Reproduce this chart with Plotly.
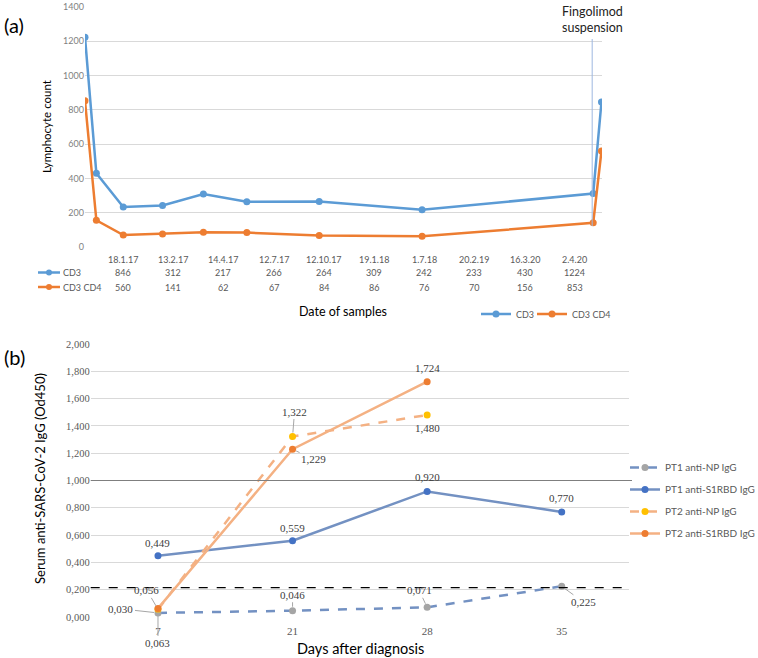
import plotly.graph_objects as go

# ---------------- Panel (a) data ----------------
table_dates = ["18.1.17", "13.2.17", "14.4.17", "12.7.17", "12.10.17",
               "19.1.18", "1.7.18", "20.2.19", "16.3.20", "2.4.20"]
table_cd3 = [846, 312, 217, 266, 264, 309, 242, 233, 430, 1224]
table_cd3cd4 = [560, 141, 62, 67, 84, 86, 76, 70, 156, 853]
# plotted series (as drawn, left to right) and their horizontal positions (0-100 scale)
plot_pos = [0, 2.2, 7.4, 15.0, 22.9, 31.3, 45.3, 65.2, 98.3, 99.9]
plot_cd3 = [1224, 430, 233, 242, 309, 264, 266, 217, 312, 846]
plot_cd3cd4 = [853, 156, 70, 76, 86, 84, 67, 62, 141, 560]
suspension_pos = 98.1

# ---------------- Panel (b) data ----------------
days = ["7", "21", "28", "35"]
pt1_np = [0.030, 0.046, 0.071, 0.225]
pt1_s1 = [0.449, 0.559, 0.920, 0.770]
pt2_np = [0.056, 1.322, 1.480, None]
pt2_s1 = [0.063, 1.229, 1.724, None]
threshold = 0.215
reference_level = 1.0

W, H = 758, 658
def px(x): return x / W
def py(y): return 1 - y / H

fig = go.Figure()

CD3_C = "#5B9BD5"
CD4_C = "#ED7D31"
GRID = "#d9d9d9"
TXT_GRAY = "#595959"

fig.add_trace(go.Scatter(x=plot_pos, y=plot_cd3, mode="lines+markers", name="CD3",
                         line=dict(color=CD3_C, width=2.5), marker=dict(size=7, color=CD3_C),
                         xaxis="x", yaxis="y", legend="legend2"))
fig.add_trace(go.Scatter(x=plot_pos, y=plot_cd3cd4, mode="lines+markers", name="CD3 CD4",
                         line=dict(color=CD4_C, width=2.5), marker=dict(size=7, color=CD4_C),
                         xaxis="x", yaxis="y", legend="legend3"))

PT1_LINE = "#7391C2"
PT2_LINE = "#F4B183"
b_traces = [
    ("PT1 anti-NP IgG", pt1_np, PT1_LINE, "dash", "#A5A5A5"),
    ("PT1 anti-S1RBD IgG", pt1_s1, PT1_LINE, "solid", "#4472C4"),
    ("PT2 anti-NP IgG", pt2_np, PT2_LINE, "dash", "#FFC000"),
    ("PT2 anti-S1RBD IgG", pt2_s1, PT2_LINE, "solid", CD4_C),
]
for name, vals, lc, dash, mc in b_traces:
    fig.add_trace(go.Scatter(x=days, y=vals, mode="lines+markers", name=name, legendgroup=name,
                             line=dict(color=lc, width=2.5, dash=dash),
                             marker=dict(size=7, color=mc), xaxis="x2", yaxis="y2"))

annotations = []
shapes = []

def note(text, x, y, size, color="#000", family="Lato", xanchor="center", **kw):
    d = dict(text=text, x=x, y=y, xref=kw.pop("xref", "paper"), yref=kw.pop("yref", "paper"),
             xanchor=xanchor, yanchor="middle", showarrow=False,
             font=dict(family=family, size=size, color=color))
    d.update(kw)
    annotations.append(d)

# ---- panel (a) labels ----
note("(a)", px(14), py(25), 20)
note("Lymphocyte count", px(47), py(127), 11.5, textangle=-90)
note("Date of samples", px(343), py(311), 12.5)
note("Fingolimod<br>suspension", suspension_pos, py(19), 12.5, color="#222", xref="x")
shapes.append(dict(type="line", xref="x", yref="paper", x0=suspension_pos, x1=suspension_pos,
                   y0=py(226), y1=py(39), line=dict(color="#9DB7E0", width=1)))

# data table under panel (a)
col0, col_step = 123.0, 50.2
for i, d in enumerate(table_dates):
    cx = px(col0 + col_step * i)
    for txt, yy in ((d, 259), (str(table_cd3[i]), 272.5), (str(table_cd3cd4[i]), 287)):
        note(txt, cx, py(yy), 9, color=TXT_GRAY)
for name, col, yy in (("CD3", CD3_C, 272.5), ("CD3 CD4", CD4_C, 287)):
    shapes.append(dict(type="line", xref="paper", yref="paper", x0=px(38), x1=px(60),
                       y0=py(yy), y1=py(yy), line=dict(color=col, width=2.5)))
    shapes.append(dict(type="circle", xref="paper", yref="paper", x0=px(46), x1=px(52),
                       y0=py(yy + 3), y1=py(yy - 3), fillcolor=col, line=dict(color=col, width=0)))
    note(name, px(61), py(yy), 9, color=TXT_GRAY, xanchor="left")

# ---- panel (b) labels ----
note("(b)", px(14), py(357), 20)
note("Serum anti-SARS-CoV-2 IgG (Od450)", px(40), py(479), 13, textangle=-90)
note("Days after diagnosis", px(360), py(648), 14.5)

shapes.append(dict(type="line", xref="paper", yref="y2", x0=px(90.7), x1=px(632),
                   y0=reference_level, y1=reference_level, line=dict(color="#7f7f7f", width=1.2)))
shapes.append(dict(type="line", xref="paper", yref="y2", x0=px(90.7), x1=px(630),
                   y0=threshold, y1=threshold, line=dict(color="#000", width=1.3, dash="dash")))

# data labels: (dx, dy, leader)
label_style = {
    "pt1_np": [(-37, -4, True), (0, -16, True), (-8, -17, True), (22, 16, True)],
    "pt1_s1": [(0, -13, False), (0, -13, False), (0, -14, False), (0, -14, False)],
    "pt2_np": [(-11, -19, True), (2, -25, True), (0, 13, False), None],
    "pt2_s1": [(0, 35, True), (21, 10, True), (0, -14, False), None],
}
series_b = {"pt1_np": pt1_np, "pt1_s1": pt1_s1, "pt2_np": pt2_np, "pt2_s1": pt2_s1}
for key, vals in series_b.items():
    for i, v in enumerate(vals):
        if v is None:
            continue
        dx, dy, leader = label_style[key][i]
        txt = f"{v:.3f}".replace(".", ",")
        a = dict(text=txt, x=i, y=v, xref="x2", yref="y2", xanchor="center", yanchor="middle",
                 font=dict(family="Liberation Serif", size=11, color="#404040"))
        if leader:
            a.update(showarrow=True, ax=dx, ay=dy, arrowhead=0, arrowwidth=1,
                     arrowcolor="#a6a6a6", standoff=4)
        else:
            a.update(showarrow=False, xshift=dx, yshift=-dy)
        annotations.append(a)

small_legend = dict(yanchor="middle", orientation="h", font=dict(family="Lato", size=9, color=TXT_GRAY),
                    bgcolor="rgba(0,0,0,0)", xanchor="left")

fig.update_layout(
    width=W, height=H,
    margin=dict(l=0, r=0, t=0, b=0, autoexpand=False),
    paper_bgcolor="white", plot_bgcolor="white",
    separators=",.",
    showlegend=True,
    xaxis=dict(domain=[px(85), px(602)], range=[0, 100], showgrid=False, zeroline=False,
               showticklabels=False, showline=False, fixedrange=True),
    yaxis=dict(domain=[py(247), py(7)], range=[0, 1400], dtick=200, gridcolor=GRID, gridwidth=1,
               zeroline=False, showline=False, ticks="", tickformat="d", ticklabeloverflow="allow",
               tickfont=dict(family="Lato", size=9, color="#7f7f7f"), anchor="x"),
    xaxis2=dict(domain=[px(90.7), px(629)], type="category", range=[-0.5, 3.5], showgrid=False,
                zeroline=False, showline=False, ticks="", anchor="y2", ticklabelstandoff=6,
                tickfont=dict(family="Liberation Serif", size=11, color=TXT_GRAY)),
    yaxis2=dict(domain=[py(617), py(344)], range=[0, 2.0], dtick=0.2, tickformat=".3f",
                gridcolor=GRID, zeroline=False, showline=False, ticks="", anchor="x2",
                ticklabeloverflow="allow",
                tickfont=dict(family="Liberation Serif", size=10.5, color=TXT_GRAY)),
    legend=dict(x=px(625), y=py(453), xanchor="left", yanchor="top", orientation="v",
                font=dict(family="Lato", size=10, color=TXT_GRAY), bgcolor="rgba(0,0,0,0)",
                tracegroupgap=3, itemwidth=30),
    legend2=dict(x=px(476), y=py(314), **small_legend),
    legend3=dict(x=px(532), y=py(314), **small_legend),
    annotations=annotations,
    shapes=shapes,
)

fig.write_html("out.html", config={"displayModeBar": False},
               post_script="document.body.style.margin='0px';")
